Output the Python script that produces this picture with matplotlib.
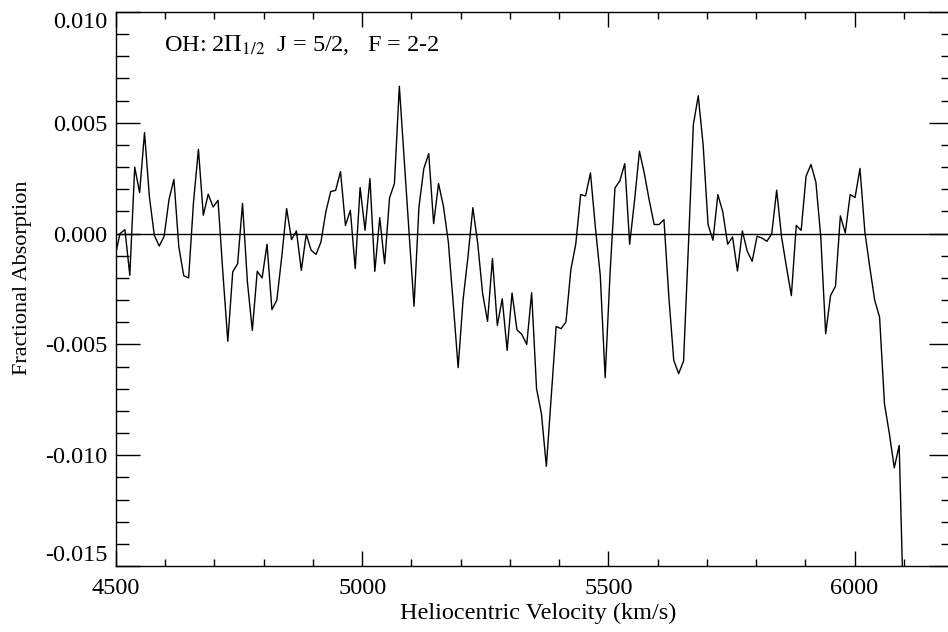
import numpy as np
import matplotlib
matplotlib.use("Agg")
import matplotlib.pyplot as plt
from matplotlib.ticker import MultipleLocator

# Spectrum channels: first channel velocity and channel width (km/s)
v_start = 4498.2
chan_width = 9.953

# Fractional absorption per channel
absorption = [
    -0.0010, 0.0000, 0.00018, -0.00188, 0.0030, 0.00185, 0.00456, 0.00165,
    -0.00008, -0.00056, -0.00012, 0.00154, 0.00245, -0.0006, -0.0019, -0.0020,
    0.00143, 0.0038, 0.00083, 0.00178, 0.0012, 0.0015, -0.0018, -0.00486,
    -0.00173, -0.00136, 0.00136, -0.00219, -0.00437, -0.0017, -0.0020, -0.00048,
    -0.00343, -0.0030, -0.00106, 0.00113, -0.00027, 0.00012, -0.00166, -0.00003,
    -0.00075, -0.00094, -0.00038, 0.00098, 0.0019, 0.00195, 0.0028, 0.00037,
    0.00105, -0.00158, 0.00208, 0.00015, 0.00248, -0.0017, 0.00072, -0.00136,
    0.00161, 0.00226, 0.00665, 0.00331, 0.0000, -0.00328, 0.0012, 0.00294,
    0.00361, 0.00045, 0.00226, 0.00123, -0.00038, -0.00316, -0.00605, -0.0030,
    -0.00106, 0.00117, -0.00045, -0.00271, -0.00396, -0.00113, -0.00414, -0.00294,
    -0.00527, -0.00268, -0.00434, -0.00455, -0.0050, -0.00267, -0.0070, -0.00813,
    -0.0105, -0.00738, -0.00419, -0.00429, -0.00399, -0.00163, -0.00048, 0.00176,
    0.0017, 0.00274, 0.0003, -0.00188, -0.0065, -0.0018, 0.00206, 0.00238,
    0.00316, -0.00048, 0.0015, 0.00372, 0.00271, 0.0015, 0.00041, 0.00041,
    0.00063, -0.00286, -0.00572, -0.00632, -0.00575, -0.0005, 0.00492, 0.00622,
    0.00399, 0.00041, -0.0003, 0.00176, 0.00098, -0.00048, -0.00015, -0.00169,
    0.00012, -0.0008, -0.00125, -0.00012, -0.0002, -0.00035, 0.0000, 0.00196,
    -0.00015, -0.00151, -0.0028, 0.00037, 0.00015, 0.00259, 0.00312, 0.00233,
    -0.00015, -0.00452, -0.00279, -0.00238, 0.0008, 0.00003, 0.00176, 0.00163,
    0.00294, 0.00007, -0.00151, -0.0030, -0.00377, -0.00768, -0.00903, -0.01057,
    -0.00956, -0.0180,
]

velocity = v_start + chan_width * np.arange(len(absorption))

x_ticks = [4500, 5000, 5500, 6000]
y_ticks = [-0.015, -0.010, -0.005, 0.000, 0.005, 0.010]

plt.rcParams["font.family"] = ["Liberation Serif", "DejaVu Serif"]
plt.rcParams["mathtext.fontset"] = "stix"

FS = 17.5

W, H = 948, 632
fig = plt.figure(figsize=(W / 100, H / 100), dpi=100)
# plot box in pixels: left 116, right 953, top 12, bottom 566
left, right, top, bottom = 116, 953, 12, 566
ax = fig.add_axes([left / W, 1 - bottom / H, (right - left) / W, (bottom - top) / H])

ax.plot(velocity, absorption, color="black", lw=1.0)
ax.axhline(0.0, color="black", lw=1.0)

ax.set_xlim(4500, 6200)
ax.set_ylim(-0.015, 0.010)

ax.set_xticks(x_ticks)
ax.set_xticklabels([str(t) for t in x_ticks])
ax.xaxis.set_minor_locator(MultipleLocator(100))
ax.set_yticks(y_ticks)
ax.set_yticklabels([f"{t:.3f}" for t in y_ticks])
ax.yaxis.set_minor_locator(MultipleLocator(0.001))

ax.tick_params(axis="both", which="both", direction="in", top=True, right=True,
               labelsize=FS, width=1.0, color="black")
ax.tick_params(axis="x", which="major", length=11, pad=9)
ax.tick_params(axis="x", which="minor", length=5)
ax.tick_params(axis="y", which="major", length=17, pad=6)
ax.tick_params(axis="y", which="minor", length=9)
for s in ax.spines.values():
    s.set_linewidth(1.0)

# keep the end labels of the y axis inside the frame
ylabels = ax.get_yticklabels()
ylabels[0].set_verticalalignment("bottom")
ylabels[-1].set_verticalalignment("top")

ax.text(4597, 0.0085, r"OH: 2$\mathrm{\Pi}_{1/2}$  J = 5/2,   F = 2-2",
        fontsize=FS, va="center", ha="left")

fig.text(538 / W, 1 - 613 / H, "Heliocentric Velocity (km/s)", fontsize=FS,
         ha="center", va="center")
fig.text(23 / W, 1 - 278 / H, "Fractional Absorption", fontsize=16,
         ha="center", va="center", rotation=90)

fig.savefig("out.png", dpi=100)
